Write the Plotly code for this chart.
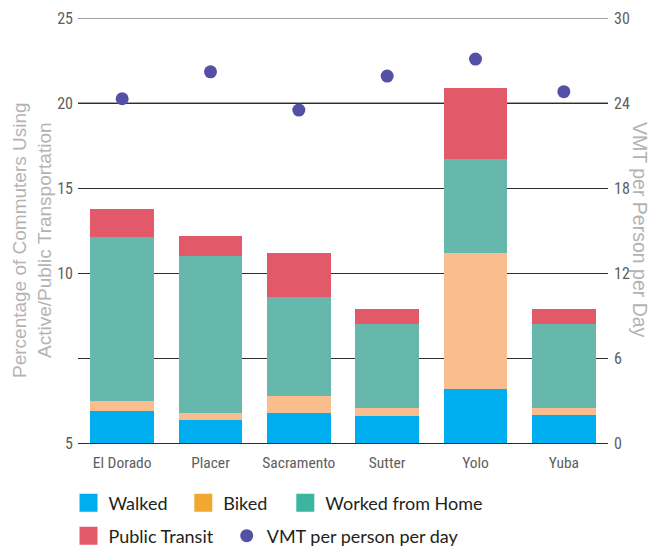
import plotly.graph_objects as go

# Commute mode shares (percentage points) and daily VMT per person by county
counties = ["El Dorado", "Placer", "Sacramento", "Sutter", "Yolo", "Yuba"]
walked = [1.88, 1.35, 1.76, 1.59, 3.18, 1.65]
biked = [0.59, 0.41, 1.00, 0.47, 8.00, 0.41]
worked_from_home = [9.65, 9.24, 5.82, 4.94, 5.53, 4.94]
public_transit = [1.65, 1.18, 2.59, 0.88, 4.18, 0.88]
vmt_per_person = [24.3, 26.2, 23.5, 25.9, 27.1, 24.8]

left_tick_vals = [0, 5, 10, 15, 20, 25]
left_tick_text = ["5", "", "10", "15", "20", "25"]
right_tick_vals = [0, 6, 12, 18, 24, 30]

W, H = 666, 550
ML, MR, MT, MB = 78, 58, 18, 107
PW, PH = W - ML - MR, H - MT - MB


def px_x(px):
    return (px - ML) / PW


def px_y(py):
    return (H - MB - py) / PH


bar_colors = ["#00AEEF", "#F9BD8E", "#66B8AC", "#E25A6A"]
legend_colors = ["#00AEEF", "#F0A830", "#3BB5A0", "#E25A6A"]
names = ["Walked", "Biked", "Worked from Home", "Public Transit"]
series = [walked, biked, worked_from_home, public_transit]
legend_ids = ["legend", "legend2", "legend3", "legend4"]

fig = go.Figure()
for name, vals, col in zip(names, series, bar_colors):
    fig.add_trace(go.Bar(
        x=counties, y=vals, name=name, marker=dict(color=col, line=dict(width=0)),
        width=0.72, showlegend=False, yaxis="y",
    ))

# legend swatches
for name, col, lid in zip(names, legend_colors, legend_ids):
    fig.add_trace(go.Scatter(
        x=[None], y=[None], mode="markers", name=name, legend=lid,
        marker=dict(symbol="square", size=16, color=col, line=dict(color=col, width=2)),
    ))

fig.add_trace(go.Scatter(
    x=counties, y=vmt_per_person, mode="markers", name="VMT per person per day",
    marker=dict(size=13, color="#5450A6"), yaxis="y2", legend="legend5",
))

tick_font = dict(family="Liberation Sans Narrow, Roboto Condensed, DejaVu Sans Condensed, sans-serif",
                 size=16, color="#5E5E5E")
x_tick_font = dict(tick_font, size=15.5)
leg_font = dict(family="Lato, Noto Sans, sans-serif", size=18, color="#231F20")


def legend_at(cx, cy):
    return dict(x=px_x(cx - 22), y=px_y(cy), xanchor="left", yanchor="middle",
                orientation="h", bgcolor="rgba(0,0,0,0)", font=leg_font)


fig.update_layout(
    width=W, height=H,
    margin=dict(l=ML, r=MR, t=MT, b=MB, autoexpand=False),
    paper_bgcolor="white", plot_bgcolor="white",
    barmode="stack",
    xaxis=dict(showgrid=False, showline=False, ticks="", tickfont=x_tick_font,
               ticklabelstandoff=8, fixedrange=True),
    yaxis=dict(range=[0, 25], tickvals=left_tick_vals, ticktext=left_tick_text,
               showgrid=True, gridcolor="#2E2E2E", gridwidth=1.4,
               zeroline=True, zerolinecolor="#2E2E2E", zerolinewidth=1.4,
               ticks="", tickfont=tick_font, ticklabelstandoff=4, showline=False),
    yaxis2=dict(range=[0, 30], tickvals=right_tick_vals, overlaying="y", side="right",
                showgrid=False, zeroline=False, ticks="", tickfont=tick_font,
                ticklabelstandoff=5, showline=False),
    legend=legend_at(90.5, 503),
    legend2=legend_at(205.3, 503),
    legend3=legend_at(307.3, 503),
    legend4=legend_at(90.5, 536),
    legend5=legend_at(248.7, 536),
    shapes=[
        dict(type="line", xref="paper", yref="y", x0=0, x1=1, y0=v, y1=v,
             line=dict(color="#808080", width=1.4), layer="below")
        for v in [20, 25]
    ],
    annotations=[
        dict(text="Percentage of Commuters Using<br>Active/Public Transportation",
             xref="paper", yref="paper", x=px_x(32), y=px_y(240), textangle=-90,
             xanchor="center", yanchor="middle", showarrow=False,
             font=dict(family="Liberation Sans, Arial, sans-serif", size=19, color="#B3B3B3")),
        dict(text="VMT per Person per Day",
             xref="paper", yref="paper", x=px_x(640), y=px_y(230), textangle=90,
             xanchor="center", yanchor="middle", showarrow=False,
             font=dict(family="Liberation Sans, Arial, sans-serif", size=19.5, color="#B3B3B3")),
    ],
)

fig.write_html("out.html")
